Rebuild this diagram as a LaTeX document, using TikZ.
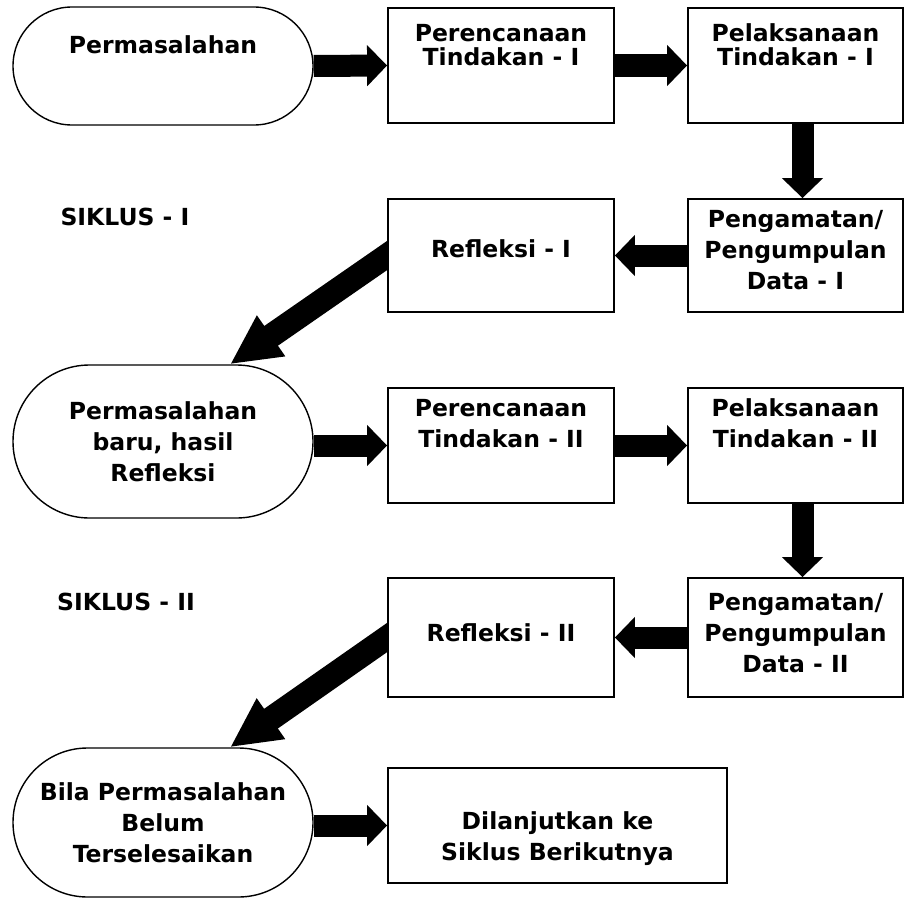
\documentclass[tikz,border=0pt]{standalone}
\usepackage{fontspec}
\setmainfont{DejaVu Sans}
\usetikzlibrary{arrows.meta,calc,backgrounds}
\tikzset{
	huruf/.style={font=\fontsize{23.5pt}{31pt}\selectfont\bfseries},
	hurufrapat/.style={font=\fontsize{23.5pt}{24pt}\selectfont\bfseries},
	kotak/.style={huruf, draw, line width=1.8pt, fill=white, inner sep=0pt, align=center, minimum width=226pt, minimum height=115pt},
	kapsul/.style={kotak, line width=1.4pt, rounded corners=#1, minimum width=300pt},
	panah/.style={line width=22pt, -{Triangle[length=20pt, width=40pt]}},
	panahmiring/.style={line width=24pt, -{Triangle[length=50pt, width=46pt]}, shorten <=-14pt}
}

\begin{document}
\begin{tikzpicture}[x=1pt, y=-1pt]
		%%%%% START %%%%%
		\useasboundingbox (0, 0) rectangle (904, 899);
		
		%%%%% SIKLUS I %%%%%
		\node[kapsul=59pt, minimum height=118pt] (s1) at (163, 66) {Permasalahan\\[11pt]\mbox{}};
		\node[kotak, hurufrapat] (p1) at (501, 65.5) {Perencanaan\\Tindakan - I\\[17pt]\mbox{}};
		\node[kotak, hurufrapat, minimum width=215pt] (l1) at (795.5, 65.5) {Pelaksanaan\\Tindakan - I\\[17pt]\mbox{}};
		
		\node[huruf] (k1) at (125, 217) {SIKLUS - I};
		\node[kotak, minimum height=113pt] (r1) at (501, 255.5) {Refleksi - I\\[-17pt]\mbox{}};
		\node[kotak, minimum width=215pt, minimum height=113pt] (g1) at (795.5, 255.5) {Pengamatan/\\Pengumpulan\\Data - I\\[-19pt]\mbox{}};
		
		%%%%% SIKLUS II %%%%%
		\node[kapsul=76.5pt, minimum height=153pt] (s2) at (163, 441.5) {Permasalahan\\baru, hasil\\Refleksi};
		\node[kotak] (p2) at (501, 445.5) {Perencanaan\\Tindakan - II\\[13pt]\mbox{}};
		\node[kotak, minimum width=215pt] (l2) at (795.5, 445.5) {Pelaksanaan\\Tindakan - II\\[13pt]\mbox{}};
		
		\node[huruf] (k2) at (126, 602) {SIKLUS - II};
		\node[kotak, minimum height=119pt] (r2) at (501, 637.5) {Refleksi - II\\[-21pt]\mbox{}};
		\node[kotak, minimum width=215pt, minimum height=119pt] (g2) at (795.5, 637.5) {Pengamatan/\\Pengumpulan\\Data - II\\[-21pt]\mbox{}};
		
		%%%%% AKHIR %%%%%
		\node[kapsul=74.5pt, minimum height=149pt] (s3) at (163, 822.5) {Bila Permasalahan\\Belum\\Terselesaikan};
		\node[kotak, minimum width=339pt] (d) at (557.5, 825.5) {\mbox{}\\[14pt]Dilanjutkan ke\\Siklus Berikutnya};
		
		\begin{scope}[on background layer]
			\draw[panah] (s1.east) -- (p1.west);
			\draw[panah] (p1.east) -- (l1.west);
			\draw[panah] ([xshift=7pt]l1.south) -- ([xshift=7pt]g1.north);
			\draw[panah] (g1.west) -- (r1.east);
			\draw[panahmiring] (r1.west) -- ($(s2.north)+(67, 0)$);
			
			\draw[panah] (p2.west -| s2.east) -- (p2.west);
			\draw[panah] (p2.east) -- (l2.west);
			\draw[panah] ([xshift=7pt]l2.south) -- ([xshift=7pt]g2.north);
			\draw[panah] (g2.west) -- (r2.east);
			\draw[panahmiring] (r2.west) -- ($(s3.north)+(67, 0)$);
			
			\draw[panah] (d.west -| s3.east) -- (d.west);
		\end{scope}
		%%%%% END %%%%%
\end{tikzpicture}
\end{document}
